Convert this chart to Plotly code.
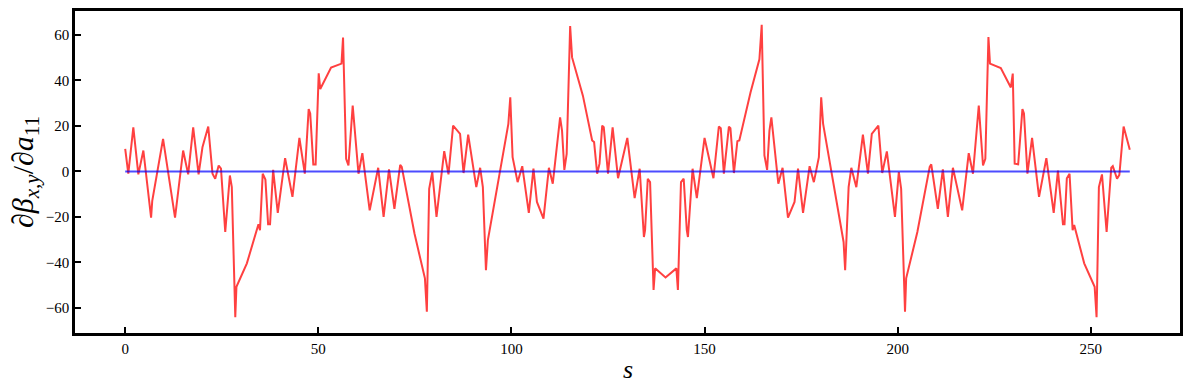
import plotly.graph_objects as go

# s positions and derivative values
s_vals = [0.0, 0.8, 2.1, 3.4, 4.7, 6.7, 7.0, 9.8, 12.9, 15.0, 16.3, 17.6, 19.0, 20.0, 21.5,
          22.6, 23.3, 24.2, 24.8, 25.9, 27.1, 27.6, 28.5, 28.8, 31.5, 34.5, 34.9, 35.6, 36.3,
          37.0, 37.5, 38.3, 39.5, 41.4, 43.3, 45.1, 46.5, 47.5, 47.9, 48.7, 49.3, 50.1, 50.5,
          53.3, 56.0, 56.4, 57.2, 57.8, 58.9, 60.4, 61.4, 63.3, 65.5, 66.9, 68.3, 69.7, 71.2,
          71.6, 74.9, 77.6, 78.1, 78.7, 79.5, 80.6, 82.6, 83.7, 84.9, 86.7, 87.6, 88.8, 90.9,
          91.9, 92.6, 93.4, 93.9, 99.2, 99.7, 100.3, 101.6, 102.8, 104.5, 105.7, 106.6, 108.3,
          109.7, 110.7, 112.6, 113.1, 113.7, 114.3, 115.2, 115.7, 118.5, 120.9, 121.4, 122.2,
          122.8, 123.5, 123.9, 125.0, 126.2, 127.6, 130.0, 131.9, 133.2, 134.3, 134.6, 135.3,
          135.9, 136.8, 137.2, 139.9, 142.7, 143.1, 143.9, 144.6, 145.4, 145.7, 146.9, 148.0,
          150.0, 152.3, 153.7, 154.2, 155.0, 156.3, 156.7, 157.6, 158.5, 159.0, 161.9, 164.2,
          164.8, 165.5, 166.2, 166.8, 167.3, 169.1, 170.2, 171.6, 173.3, 174.2, 175.5, 177.2,
          178.3, 179.6, 180.2, 180.7, 186.0, 186.4, 187.3, 188.0, 189.3, 191.0, 192.3, 193.3,
          195.0, 196.0, 197.2, 199.3, 200.3, 200.9, 201.9, 202.2, 205.1, 208.3, 208.7, 210.4,
          211.7, 213.0, 214.3, 216.7, 218.4, 219.5, 221.0, 222.1, 222.7, 223.5, 223.9, 226.7,
          229.3, 229.8, 230.3, 231.2, 232.3, 232.7, 233.6, 234.8, 236.6, 238.5, 240.4, 241.5,
          242.8, 243.2, 243.8, 244.5, 245.3, 245.7, 248.3, 251.0, 251.5, 252.1, 252.9, 254.1,
          255.3, 255.7, 256.8, 257.4, 258.5, 260.1]
dbeta_vals = [9.9, -1.0, 19.4, -1.3, 9.2, -20.3, -12.9, 14.3, -20.3, 9.2, -1.3, 19.4, -1.3, 10.6, 19.7,
              -1.0, -3.2, 2.6, 1.2, -26.6, -1.8, -6.9, -64.1, -50.7, -40.4, -23.2, -25.8, -1.0, -3.6,
              -23.2, -23.2, 0.7, -18.2, 5.8, -11.2, 14.7, -1.0, 27.4, 25.5, 3.1, 3.1, 43.1, 36.2,
              45.7, 47.4, 58.8, 5.5, 2.6, 28.9, -1.0, 8.0, -17.1, 1.6, -20.0, 0.9, -16.4, 2.9,
              2.0, -27.3, -47.0, -61.6, -7.6, -0.3, -20.0, 8.9, -1.3, 20.1, 16.5, -0.7, 16.2, -6.9,
              1.6, -6.9, -43.4, -30.2, 20.9, 32.6, 6.3, -4.7, 2.3, -18.2, 1.2, -13.4, -20.7,
              1.6, -5.4, 23.8, 17.9, 0.7, 7.7, 63.9, 50.1, 33.3, 13.6, 12.9, -1.0,
              3.4, 20.1, 19.4, -1.0, 19.4, -3.0, 14.7, -11.7, 1.2, -28.8, -25.8, -3.2,
              -4.7, -52.1, -42.6, -46.6, -42.6, -52.1, -4.7, -3.2, -25.8, -28.8, 1.2, -11.7,
              14.7, -3.0, 19.7, 19.0, -1.0, 19.7, 19.0, -0.7, 13.3, 13.6, 34.7, 49.3,
              64.4, 7.0, 0.7, 17.9, 23.8, -5.4, 1.6, -20.3, -13.4, 1.2, -18.2, 2.3,
              -4.7, 6.3, 32.6, 20.9, -31.0, -43.4, -6.9, 1.6, -6.9, 16.2, -1.0, 16.5,
              20.1, -0.7, 8.8, -20.0, -0.3, -7.6, -61.6, -47.0, -26.6, 2.0, 3.1, -16.4,
              0.9, -20.0, 1.6, -17.1, 8.0, -1.0, 28.9, 2.6, 5.5, 59.1, 47.4, 45.4,
              36.9, 43.0, 3.4, 3.1, 27.4, 25.5, -1.0, 14.7, -11.2, 5.8, -18.2, 0.4,
              -23.2, -23.2, -3.0, -1.0, -25.8, -23.5, -40.4, -50.7, -64.1, -6.9, -1.3, -26.6,
              1.6, 2.3, -3.2, -1.5, 19.7, 9.5]
zero_s = [0.0, 260.1]
zero_vals = [0.0, 0.0]

x_ticks = [0, 50, 100, 150, 200, 250]
y_ticks = [-60, -40, -20, 0, 20, 40, 60]

fig = go.Figure()
fig.add_trace(go.Scatter(x=s_vals, y=dbeta_vals, mode="lines",
                         line=dict(color="rgba(255,0,0,0.75)", width=2),
                         showlegend=False, hoverinfo="skip"))
fig.add_trace(go.Scatter(x=zero_s, y=zero_vals, mode="lines",
                         line=dict(color="rgba(0,0,255,0.7)", width=2),
                         showlegend=False, hoverinfo="skip"))

serif = "Liberation Serif, DejaVu Serif, serif"
axis_font = dict(family=serif, size=15, color="black")
fig.update_layout(
    width=1189, height=390,
    margin=dict(l=75, r=9, t=11, b=57, autoexpand=False),
    paper_bgcolor="white", plot_bgcolor="white",
    font=axis_font,
    xaxis=dict(range=[-13.0, 273.1], tickvals=x_ticks, ticks="inside", ticklen=6,
               tickwidth=1.5, tickcolor="black", showgrid=False, zeroline=False,
               showline=True, linewidth=2.5, linecolor="black", mirror=True,
               tickfont=axis_font, automargin=False),
    yaxis=dict(range=[-71.0, 70.5], tickvals=y_ticks, ticks="inside", ticklen=6,
               tickwidth=1.5, tickcolor="black", showgrid=False, zeroline=False,
               showline=True, linewidth=2.5, linecolor="black", mirror=True,
               tickfont=axis_font, automargin=False),
    annotations=[
        dict(text="<i>s</i>", x=0.5, y=0, xref="paper", yref="paper", yanchor="middle",
             xanchor="center", showarrow=False, yshift=-36,
             font=dict(family=serif, size=26, color="black")),
        dict(text="∂<i>β</i><sub><i>x,y</i></sub>/∂<i>a</i><sub>11</sub>", x=0, y=0.5,
             xref="paper", yref="paper", xanchor="center", yanchor="middle",
             xshift=-50, textangle=-90, showarrow=False,
             font=dict(family=serif, size=30, color="black")),
    ],
)

fig.write_html("out.html", config={"displayModeBar": False},
               post_script="document.body.style.margin='0';document.body.style.padding='0';")
